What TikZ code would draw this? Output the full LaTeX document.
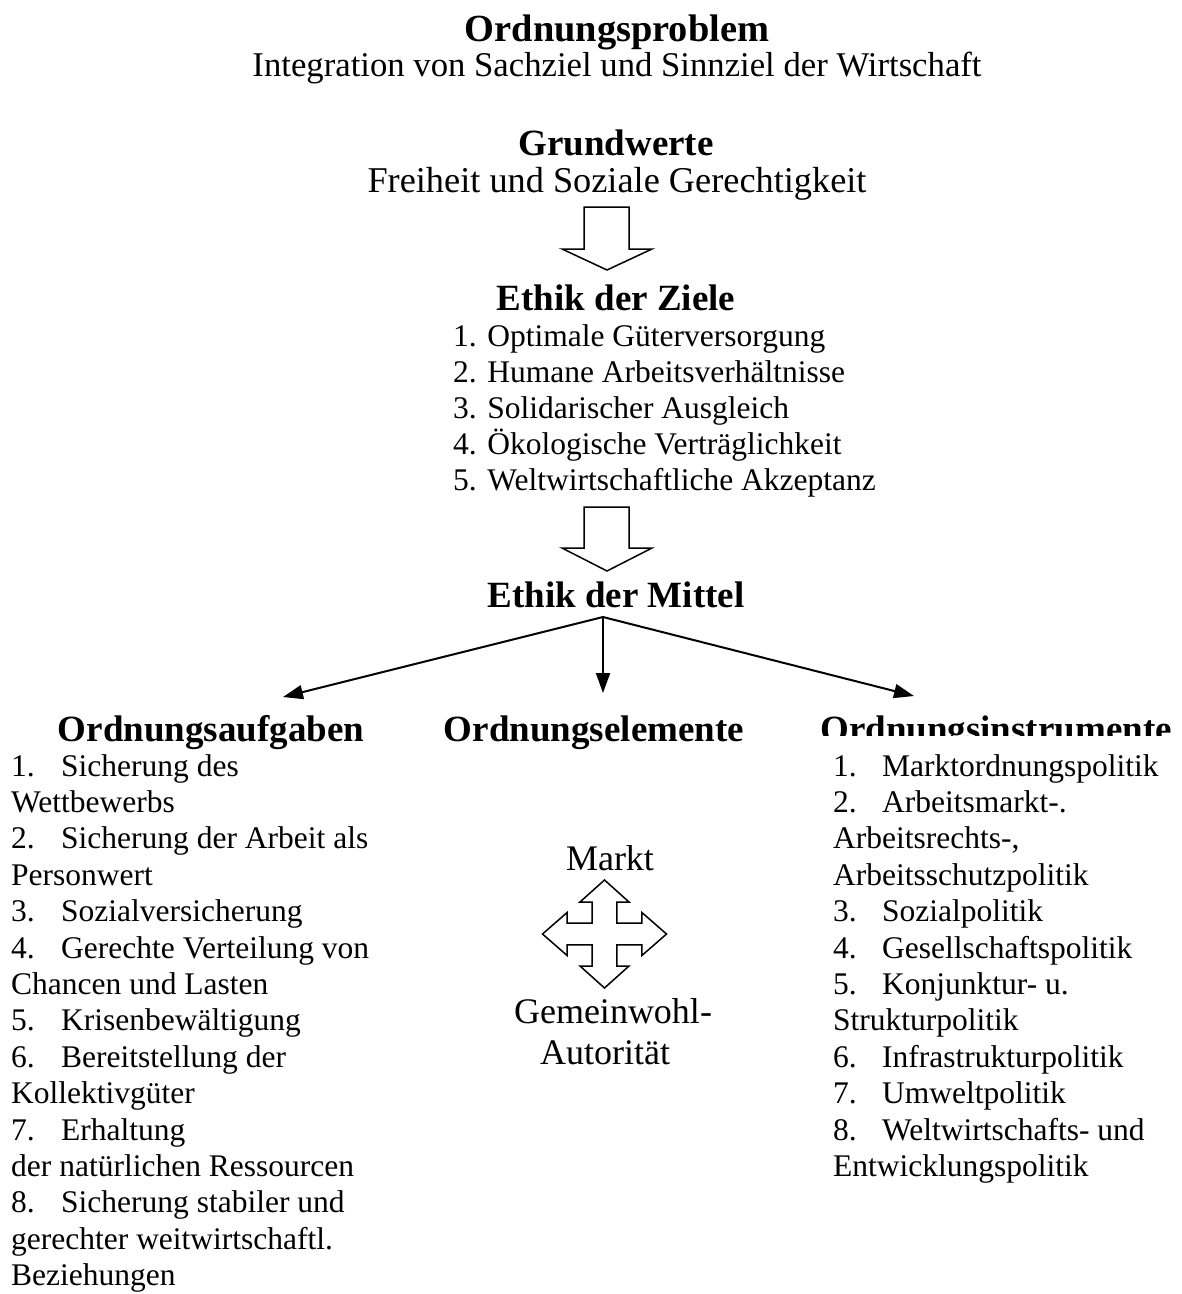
\documentclass[tikz,border=0pt]{standalone}
\usepackage{fontspec}
\setmainfont{Liberation Serif}
\usetikzlibrary{arrows.meta}
\begin{document}
\begin{tikzpicture}[x=1pt,y=-1pt,
  head/.style={font=\fontsize{37}{40}\selectfont\bfseries, inner sep=0pt, anchor=base},
  bodyc/.style={font=\fontsize{31.5}{32}\selectfont, inner sep=0pt, anchor=base},
  body/.style={font=\fontsize{31.5}{32}\selectfont, inner sep=0pt, anchor=base west},
  big/.style={font=\fontsize{36}{40}\selectfont, inner sep=0pt, anchor=base},
  blockarrow/.style={draw=black, line width=1.5pt, line join=miter, fill=white},
  conn/.style={draw=black, line width=2pt, -{Triangle[length=20pt,width=14pt]}}]
\useasboundingbox (0,0) rectangle (1182,1294);
\fill[white] (0,0) rectangle (1182,1294);

% top
\node[head, font=\fontsize{38.4}{42}\selectfont\bfseries] (op) at (617,41) {Ordnungsproblem};
\node[bodyc, font=\fontsize{34.7}{38}\selectfont] (opsub) at (617,76) {Integration von Sachziel und Sinnziel der Wirtschaft};
\node[head] (gw) at (616,155) {Grundwerte};
\node[bodyc, font=\fontsize{36.3}{40}\selectfont] (gwsub) at (617,192) {Freiheit und Soziale Gerechtigkeit};

% block arrow 1
\draw[blockarrow] (584,207) -- (629,207) -- (629,249) -- (652,249) -- (607,270)
  -- (562,249) -- (584,249) -- cycle;

\node[head] (ez) at (616,310) {Ethik der Ziele};
\node[body] (ez1) at (453,346) {1. Optimale Güterversorgung};
\node[body] (ez2) at (453,382) {2. Humane Arbeitsverhältnisse};
\node[body] (ez3) at (453,418) {3. Solidarischer Ausgleich};
\node[body] (ez4) at (453,454) {4. Ökologische Verträglichkeit};
\node[body] (ez5) at (453,490) {5. Weltwirtschaftliche Akzeptanz};

% block arrow 2
\draw[blockarrow] (584,507) -- (629,507) -- (629,548) -- (652,548) -- (607,571)
  -- (562,548) -- (584,548) -- cycle;

\node[head] (em) at (616,607) {Ethik der Mittel};

% connectors
\coordinate (src) at (603,617);
\coordinate (tA) at (283,697);
\coordinate (tE) at (603,693);
\coordinate (tI) at (914,696);
\draw[conn] (src) -- (tA);
\draw[conn] (src) -- (tE);
\draw[conn] (src) -- (tI);

% headings row
\node[head] (oa) at (211,741) {Ordnungsaufgaben};
\node[head] (oe) at (594,741) {Ordnungselemente};
\begin{scope}
  \clip (790,690) rectangle (1182,735);
  \node[head] (oi) at (996,741) {Ordnungsinstrumente};
\end{scope}

% left list
\node[body] (a1n) at (11,776) {1.};
\node[body] (a1) at (61,776) {Sicherung des};
\node[body] (a1b) at (11,812.4) {Wettbewerbs};
\node[body] (a2n) at (11,848.8) {2.};
\node[body] (a2) at (61,848.8) {Sicherung der Arbeit als};
\node[body] (a2b) at (11,885.2) {Personwert};
\node[body] (a3n) at (11,921.6) {3.};
\node[body] (a3) at (61,921.6) {Sozialversicherung};
\node[body] (a4n) at (11,958) {4.};
\node[body] (a4) at (61,958) {Gerechte Verteilung von};
\node[body] (a4b) at (11,994.4) {Chancen und Lasten};
\node[body] (a5n) at (11,1030.8) {5.};
\node[body] (a5) at (61,1030.8) {Krisenbewältigung};
\node[body] (a6n) at (11,1067.2) {6.};
\node[body] (a6) at (61,1067.2) {Bereitstellung der};
\node[body] (a6b) at (11,1103.6) {Kollektivgüter};
\node[body] (a7n) at (11,1140) {7.};
\node[body] (a7) at (61,1140) {Erhaltung};
\node[body] (a7b) at (11,1176.4) {der natürlichen Ressourcen};
\node[body] (a8n) at (11,1212.8) {8.};
\node[body] (a8) at (61,1212.8) {Sicherung stabiler und};
\node[body] (a8b) at (11,1249.2) {gerechter weitwirtschaftl.};
\node[body] (a8c) at (11,1285.6) {Beziehungen};

% right list
\node[body] (i1n) at (833,776) {1.};
\node[body] (i1) at (882,776) {Marktordnungspolitik};
\node[body] (i2n) at (833,812.4) {2.};
\node[body] (i2) at (882,812.4) {Arbeitsmarkt-.};
\node[body] (i2b) at (833,848.8) {Arbeitsrechts-,};
\node[body] (i2c) at (833,885.2) {Arbeitsschutzpolitik};
\node[body] (i3n) at (833,921.6) {3.};
\node[body] (i3) at (882,921.6) {Sozialpolitik};
\node[body] (i4n) at (833,958) {4.};
\node[body] (i4) at (882,958) {Gesellschaftspolitik};
\node[body] (i5n) at (833,994.4) {5.};
\node[body] (i5) at (882,994.4) {Konjunktur- u.};
\node[body] (i5b) at (833,1030.8) {Strukturpolitik};
\node[body] (i6n) at (833,1067.2) {6.};
\node[body] (i6) at (882,1067.2) {Infrastrukturpolitik};
\node[body] (i7n) at (833,1103.6) {7.};
\node[body] (i7) at (882,1103.6) {Umweltpolitik};
\node[body] (i8n) at (833,1140) {8.};
\node[body] (i8) at (882,1140) {Weltwirtschafts- und};
\node[body] (i8b) at (833,1176.4) {Entwicklungspolitik};

% centre column
\node[big] (markt) at (610,870) {Markt};
\begin{scope}[shift={(604.5,934)}]
\draw[blockarrow] (0,-54) -- (24.5,-32) -- (12.3,-32) -- (12.3,-10.8) -- (37.4,-10.8)
  -- (37.4,-21.5) -- (62,0) -- (37.4,21.5) -- (37.4,10.8) -- (12.3,10.8)
  -- (12.3,32) -- (24.5,32) -- (0,54) -- (-24.5,32) -- (-12.3,32) -- (-12.3,10.8)
  -- (-37.4,10.8) -- (-37.4,21.5) -- (-62,0) -- (-37.4,-21.5) -- (-37.4,-10.8)
  -- (-12.3,-10.8) -- (-12.3,-32) -- (-24.5,-32) -- cycle;
\end{scope}
\node[big] (gem) at (613,1023) {Gemeinwohl-};
\node[big] (aut) at (605,1064) {Autorität};
\end{tikzpicture}
\end{document}
